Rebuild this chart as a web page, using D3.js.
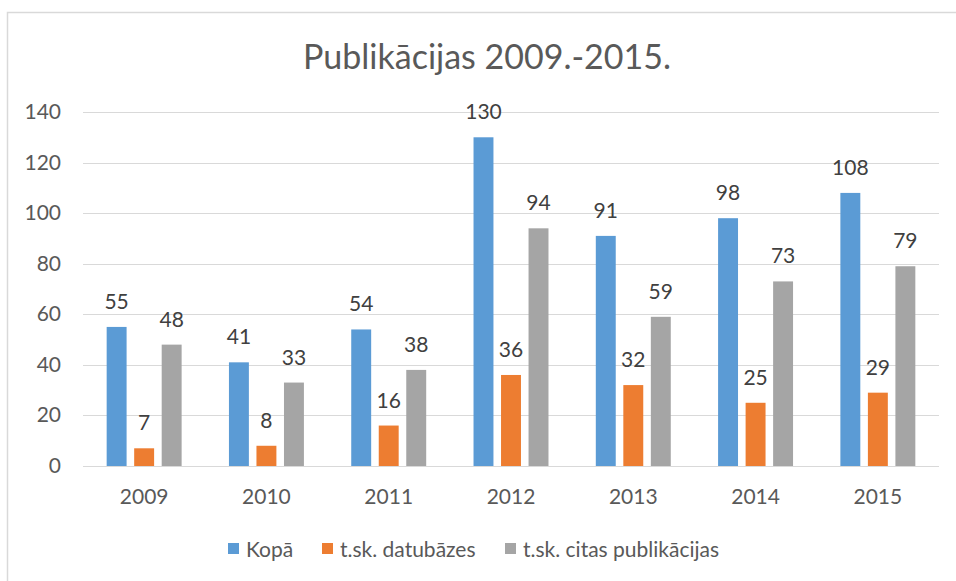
<!DOCTYPE html>
<html>
<head>
<meta charset="utf-8">
<script src="https://cdn.jsdelivr.net/npm/d3@7"></script>
<style>
  body { margin: 0; background: #fff; }
  text { font-family: Lato, "Open Sans", sans-serif; }
</style>
</head>
<body>
<svg id="chart" width="956" height="581"></svg>
<script>
// chart data
const years = ["2009", "2010", "2011", "2012", "2013", "2014", "2015"];
const seriesNames = ["Kopā", "t.sk. datubāzes", "t.sk. citas publikācijas"];
const kopa = [55, 41, 54, 130, 91, 98, 108];
const datubazes = [7, 8, 16, 36, 32, 25, 29];
const citas = [48, 33, 38, 94, 59, 73, 79];
const yTicks = [0, 20, 40, 60, 80, 100, 120, 140];
const colors = ["#5b9bd5", "#ed7d31", "#a5a5a5"];

const series = [kopa, datubazes, citas];

let svg = d3.select("#chart");

// outer chart border (cropped on right and bottom)
svg.append("rect")
    .attr("x", 7.5).attr("y", 12.5)
    .attr("width", 1000).attr("height", 1000)
    .attr("fill", "none")
    .attr("stroke", "#d9d9d9")
    .attr("stroke-width", 1.5);

// title
svg.append("text")
    .attr("x", 487).attr("y", 69)
    .attr("text-anchor", "middle")
    .attr("font-size", 34)
    .attr("fill", "#595959")
    .text("Publikācijas 2009.-2015.");

let x = d3.scaleBand().domain(years).range([83, 939]);
let y = d3.scaleLinear().domain([0, 140]).range([466, 112]);

// gridlines
svg.append("g")
    .selectAll("line")
    .data(yTicks)
    .enter().append("line")
    .attr("x1", 83).attr("x2", 939)
    .attr("y1", d => Math.round(y(d)) + 0.5)
    .attr("y2", d => Math.round(y(d)) + 0.5)
    .attr("stroke", "#d9d9d9")
    .attr("stroke-width", 1);

// y tick labels
svg.append("g")
    .selectAll("text")
    .data(yTicks)
    .enter().append("text")
    .attr("x", 61)
    .attr("y", d => y(d) + 7)
    .attr("text-anchor", "end")
    .attr("font-size", 21)
    .attr("fill", "#595959")
    .text(d => d);

// x labels
svg.append("g")
    .selectAll("text")
    .data(years)
    .enter().append("text")
    .attr("x", d => x(d) + x.bandwidth() / 2)
    .attr("y", 504)
    .attr("text-anchor", "middle")
    .attr("font-size", 21)
    .attr("fill", "#595959")
    .text(d => d);

// bars
let bw = x.bandwidth();
let barW = bw * 0.163;
let step = bw * 0.225;

series.forEach(function(vals, si) {
    let g = svg.append("g");
    let cx = i => x(years[i]) + bw / 2 + (si - 1) * step;
    g.selectAll("rect")
        .data(vals)
        .enter().append("rect")
        .attr("x", (d, i) => cx(i) - barW / 2)
        .attr("y", d => y(d))
        .attr("width", barW)
        .attr("height", d => y(0) - y(d))
        .attr("fill", colors[si]);
    g.selectAll("text")
        .data(vals)
        .enter().append("text")
        .attr("x", (d, i) => cx(i))
        .attr("y", d => y(d) - 18)
        .attr("text-anchor", "middle")
        .attr("font-size", 21)
        .attr("fill", "#404040")
        .text(d => d);
});

// legend
let legendX = [228, 322, 505];
let legend = svg.append("g");
seriesNames.forEach(function(name, i) {
    legend.append("rect")
        .attr("x", legendX[i]).attr("y", 543)
        .attr("width", 11).attr("height", 11)
        .attr("fill", colors[i]);
    legend.append("text")
        .attr("x", legendX[i] + 18).attr("y", 557)
        .attr("font-size", 21)
        .attr("fill", "#595959")
        .text(name);
});
</script>
</body>
</html>
